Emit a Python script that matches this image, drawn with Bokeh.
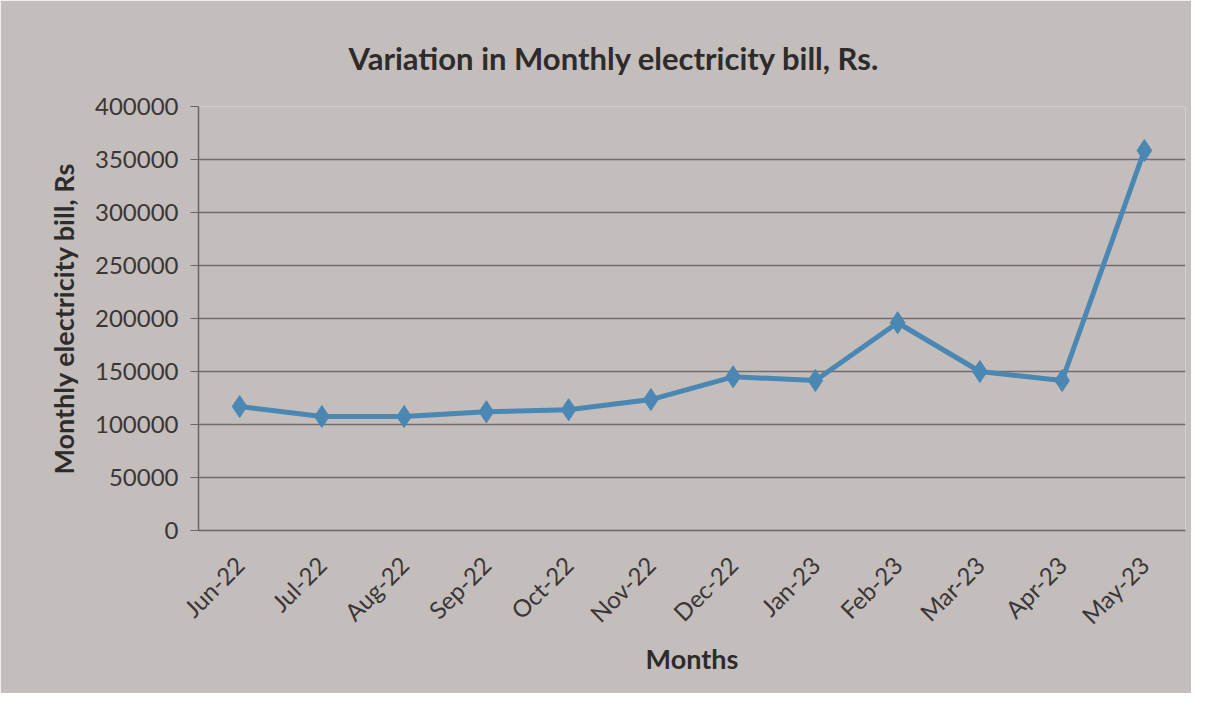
from bokeh.plotting import figure
from bokeh.embed import file_html
from bokeh.resources import INLINE
from bokeh.models import ColumnDataSource, FixedTicker, NumeralTickFormatter, Range1d

months = ["Jun-22", "Jul-22", "Aug-22", "Sep-22", "Oct-22", "Nov-22",
          "Dec-22", "Jan-23", "Feb-23", "Mar-23", "Apr-23", "May-23"]
bill = [117000, 107500, 107500, 112000, 114000, 123500,
        145000, 141500, 196000, 150000, 141500, 358500]
y_ticks = [0, 50000, 100000, 150000, 200000, 250000, 300000, 350000, 400000]

FONT = "Lato"
BG = "#c3bdbc"
LINE = "#4a87b3"

src = ColumnDataSource(dict(m=months, v=bill))

p = figure(width=1191, height=693, x_range=months, y_range=Range1d(0, 400000),
           output_backend="svg", toolbar_location=None,
           min_border_left=198, min_border_right=6, min_border_top=106, min_border_bottom=163)
p.background_fill_color = BG
p.border_fill_color = BG
p.outline_line_color = None

p.title.text = "Variation in Monthly electricity bill, Rs."
p.title.text_font = FONT
p.title.text_font_size = "31px"
p.title.text_font_style = "bold"
p.title.text_color = "#2e2b2b"
p.title.align = "left"
p.title.offset = 150
p.title.standoff = 60

p.line("m", "v", source=src, line_color=LINE, line_width=5)
p.scatter("m", "v", source=src, marker="diamond", size=22, fill_color=LINE, line_color=LINE)

p.yaxis.ticker = FixedTicker(ticks=y_ticks)
p.yaxis.formatter = NumeralTickFormatter(format="0")
p.yaxis.axis_label = "Monthly electricity bill, Rs"
p.xaxis.axis_label = "Months"
for ax in (p.xaxis, p.yaxis):
    ax.axis_label_text_font = FONT
    ax.axis_label_text_font_size = "27px"
    ax.axis_label_text_font_style = "bold"
    ax.axis_label_text_color = "#2e2b2b"
    ax.major_label_text_font = FONT
    ax.major_label_text_font_size = "24px"
    ax.major_label_text_color = "#3a3636"
    ax.axis_line_color = "#6a6464"
    ax.axis_line_width = 1.5
    ax.minor_tick_line_color = None

p.yaxis.major_tick_line_color = "#6a6464"
p.yaxis.major_tick_out = 8
p.yaxis.major_tick_in = 0
p.yaxis.major_label_standoff = 12
p.yaxis.axis_label_standoff = 12
p.xaxis.major_tick_line_color = None
p.xaxis.major_label_orientation = 0.785
p.xaxis.major_label_standoff = 24
p.xaxis.axis_label_standoff = 0

p.xgrid.grid_line_color = None
p.ygrid.grid_line_color = "#736d6c"
p.ygrid.grid_line_width = 1.5

open("out.html", "w").write(file_html(p, INLINE))
